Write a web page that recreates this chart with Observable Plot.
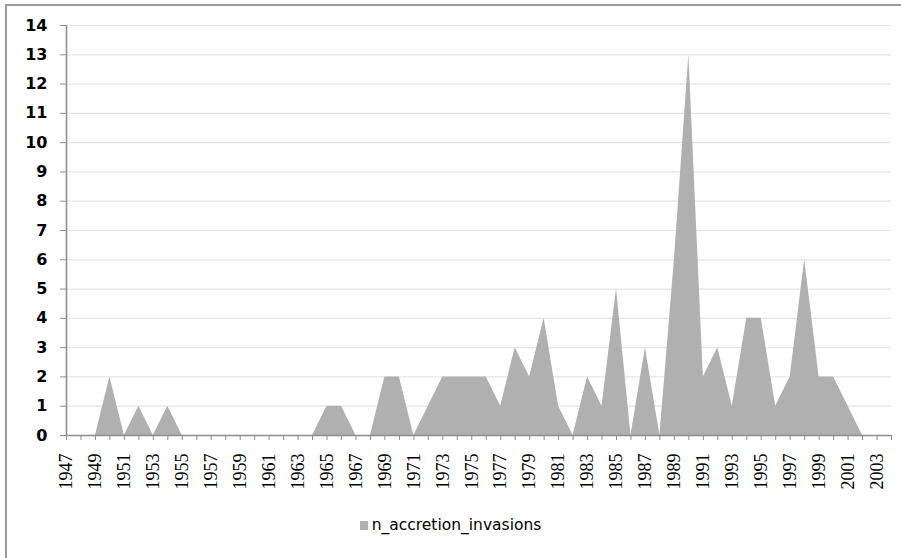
<!DOCTYPE html>
<html>
<head>
<meta charset="utf-8">
<script src="https://cdn.jsdelivr.net/npm/d3@7"></script>
<script src="https://cdn.jsdelivr.net/npm/@observablehq/plot@0.6"></script>
<style>
  html, body { margin: 0; padding: 0; background: #fff; width: 901px; height: 558px; overflow: hidden; }
  #frame { position: absolute; left: 5px; top: 4px; width: 1000px; height: 700px;
           border-left: 2px solid #9a9a9a; border-top: 2px solid #9a9a9a; }
  #chart { position: absolute; left: 0; top: 0; }
  #legend { position: absolute; left: 0; top: 516px; width: 901px; text-align: center;
            font-family: "DejaVu Sans", sans-serif; font-size: 15.5px; color: #000; }
  #legend .sw { display: inline-block; width: 8px; height: 9px; background: #b0b0b0; margin-right: 4px; vertical-align: 0px; }
</style>
</head>
<body>
<div id="frame"></div>
<div id="chart"></div>
<div id="legend"></div>
<script>
const years = [1947,1948,1949,1950,1951,1952,1953,1954,1955,1956,1957,1958,1959,1960,1961,1962,1963,1964,1965,1966,1967,1968,1969,1970,1971,1972,1973,1974,1975,1976,1977,1978,1979,1980,1981,1982,1983,1984,1985,1986,1987,1988,1989,1990,1991,1992,1993,1994,1995,1996,1997,1998,1999,2000,2001,2002,2003];
const invasions = [0,0,0,2,0,1,0,1,0,0,0,0,0,0,0,0,0,0,1,1,0,0,2,2,0,1,2,2,2,2,1,3,2,4,1,0,2,1,5,0,3,0,6,13,2,3,1,4,4,1,2,6,2,2,1,0,0];
const tickYears = [1947,1948,1949,1950,1951,1952,1953,1954,1955,1956,1957,1958,1959,1960,1961,1962,1963,1964,1965,1966,1967,1968,1969,1970,1971,1972,1973,1974,1975,1976,1977,1978,1979,1980,1981,1982,1983,1984,1985,1986,1987,1988,1989,1990,1991,1992,1993,1994,1995,1996,1997,1998,1999,2000,2001,2002,2003,2004];
const labelYears = [1947,1949,1951,1953,1955,1957,1959,1961,1963,1965,1967,1969,1971,1973,1975,1977,1979,1981,1983,1985,1987,1989,1991,1993,1995,1997,1999,2001,2003];
const yTicks = [0,1,2,3,4,5,6,7,8,9,10,11,12,13,14];
const gridValues = [1,2,3,4,5,6,7,8,9,10,11,12,13,14];
const seriesName = "n_accretion_invasions";

const data = years.map((y, i) => ({year: y, value: invasions[i]}));

const chart = Plot.plot({
  width: 901,
  height: 500,
  marginLeft: 66,
  marginRight: 10,
  marginTop: 25,
  marginBottom: 65,
  style: {background: "transparent", overflow: "visible"},
  x: {type: "linear", domain: [1947, 2004]},
  y: {domain: [0, 14]},
  marks: [
    Plot.ruleY(gridValues, {stroke: "#e6e6e6", strokeWidth: 1.2}),
    Plot.areaY(data, {x: "year", y: "value", fill: "#b0b0b0", curve: "linear"}),
    Plot.ruleY([0], {stroke: "#8c8c8c", strokeWidth: 1.5}),
    Plot.ruleX([1947], {stroke: "#8c8c8c", strokeWidth: 1.5}),
    Plot.axisY({
      ticks: yTicks, tickSize: 6, tickPadding: 13, stroke: "#8c8c8c",
      tickFormat: d => String(d), label: null,
      fontFamily: "DejaVu Sans", fontSize: 16, fontWeight: "bold", fill: "#000"
    }),
    Plot.axisX({
      ticks: tickYears, tickSize: 5, tickPadding: 13, stroke: "#8c8c8c",
      tickFormat: d => labelYears.includes(d) ? String(d) : "",
      tickRotate: -90, label: null,
      fontFamily: "Liberation Serif", fontSize: 18, fill: "#000"
    })
  ]
});
document.getElementById("chart").appendChild(chart);

const legend = document.getElementById("legend");
legend.innerHTML = '<span class="sw"></span>' + seriesName;
</script>
</body>
</html>
